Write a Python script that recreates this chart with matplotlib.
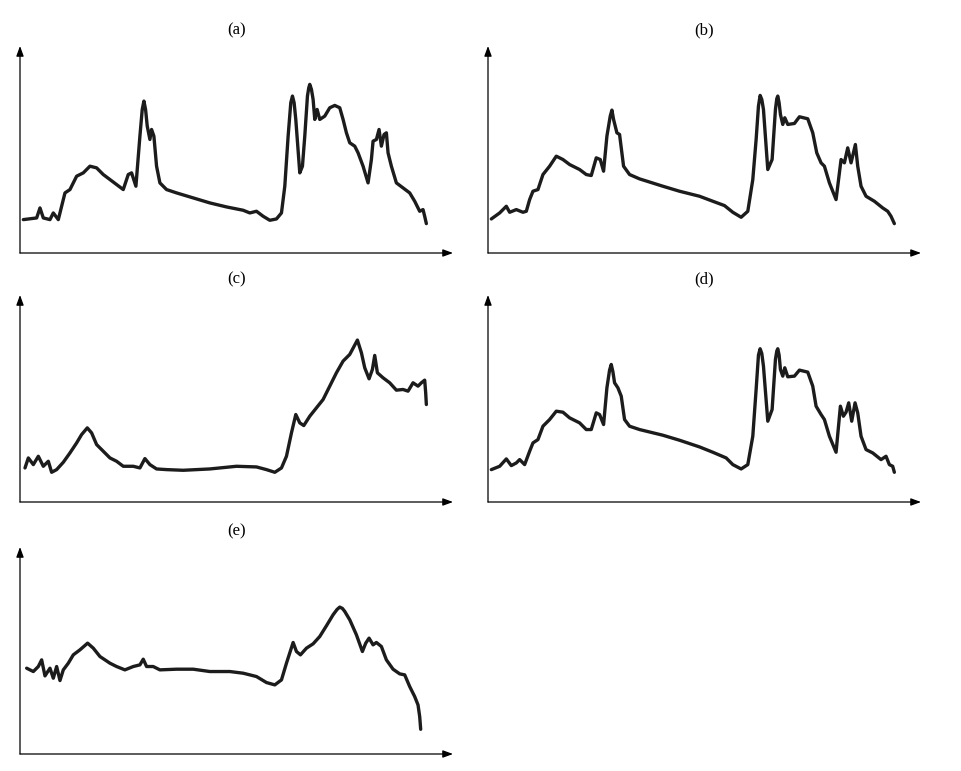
import numpy as np
import matplotlib
matplotlib.use("Agg")
import matplotlib.pyplot as plt

# Spectra, arbitrary units (no tick labels in the original)
panel_labels = ['(a)', '(b)', '(c)', '(d)', '(e)']

x_a = [10, 50, 60, 70, 90, 100, 115, 120, 135, 150, 170, 190, 210, 230, 250, 270, 290, 310, 325, 335,
       348, 360, 367, 372, 377, 382, 390, 395, 402, 410, 420, 440, 470, 520, 570, 620, 670, 690, 710, 730,
       750, 770, 785, 795, 805, 813, 818, 823, 828, 840, 848, 855, 863, 867, 870, 875, 880, 885, 892, 900,
       915, 930, 945, 960, 970, 980, 990, 1005, 1015, 1030, 1045, 1055, 1060, 1070, 1078, 1085, 1093, 1100,
       1105, 1115, 1130, 1150, 1170, 1185, 1200, 1210, 1215, 1220]
y_a = [100, 105, 135, 105, 100, 120, 100, 120, 180, 190, 230, 240, 260, 255, 235, 220, 205, 190, 235, 240,
       200, 350, 430, 455, 430, 380, 340, 370, 350, 260, 210, 190, 180, 165, 150, 138, 128, 120, 125, 110,
       98, 102, 120, 200, 350, 450, 470, 450, 400, 240, 260, 350, 470, 495, 505, 490, 460, 400, 430, 400,
       410, 435, 442, 435, 400, 360, 330, 320, 300, 260, 210, 280, 335, 340, 370, 320, 355, 360,
       300, 260, 210, 195, 180, 155, 125, 130, 110, 88]

x_b = [10, 35, 55, 65, 85, 105, 115, 125, 135, 150, 165, 185, 205, 225, 245, 275, 295, 310, 325, 337,
       347, 357, 367, 372, 377, 387, 395, 407, 425, 455, 525, 575, 635, 675, 710, 735, 760, 780, 795, 805,
       812, 817, 822, 827, 840, 853, 863, 867, 870, 874, 878, 885, 891, 900, 920, 935, 960, 975, 987, 1000,
       1010, 1025, 1045, 1060, 1070, 1080, 1090, 1103, 1110, 1120, 1135, 1160, 1185, 1200, 1210, 1220]
y_b = [102, 120, 140, 122, 130, 122, 125, 160, 185, 190, 235, 260, 290, 280, 265, 250, 235, 232, 285, 280,
       245, 350, 410, 428, 400, 360, 355, 260, 235, 222, 200, 185, 170, 155, 142, 122, 107, 125, 220, 340,
       440, 472, 460, 430, 250, 280, 430, 462, 470, 450, 415, 385, 405, 385, 388, 408, 402, 360, 300, 270,
       260, 210, 160, 280, 270, 315, 270, 325, 260, 200, 170, 155, 135, 125, 110, 88]

x_c = [15, 25, 40, 55, 70, 85, 95, 110, 130, 150, 170, 185, 202, 215, 230, 250, 270, 290, 310, 340,
       360, 375, 390, 410, 440, 490, 570, 650, 710, 740, 765, 785, 800, 815, 828, 840, 852, 870, 890, 910,
       930, 950, 970, 990, 1013, 1025, 1035, 1048, 1058, 1065, 1073, 1090, 1110, 1130, 1150, 1165, 1180,
       1195, 1205, 1215, 1218, 1220]
y_c = [102, 132, 112, 137, 107, 122, 89, 97, 119, 147, 177, 202, 222, 207, 172, 152, 132, 122, 107, 107,
       102, 130, 112, 99, 97, 95, 99, 107, 105, 97, 89, 102, 137, 207, 262, 237, 229, 257, 282, 307,
       347, 387, 422, 442, 485, 447, 402, 369, 397, 439, 387, 372, 357, 335, 337, 332, 357,
       347, 357, 365, 327, 292]

x_d = [10, 35, 55, 70, 85, 95, 110, 125, 135, 150, 165, 185, 205, 225, 245, 275, 295, 310, 325, 335,
       347, 357, 365, 370, 375, 380, 390, 400, 410, 425, 455, 525, 575, 635, 675, 715, 735, 760, 780, 795,
       805, 812, 817, 822, 827, 840, 853, 863, 867, 870, 874, 878, 885, 891, 900, 920, 935, 960, 975, 985,
       1000, 1010, 1025, 1045, 1058, 1067, 1075, 1083, 1092, 1102, 1110, 1120, 1135, 1155, 1180, 1195, 1205,
       1215, 1220]
y_d = [97, 107, 129, 109, 117, 127, 112, 152, 177, 187, 227, 247, 272, 269, 252, 237, 217, 217, 267, 262,
       232, 342, 395, 412, 390, 357, 342, 317, 247, 227, 217, 200, 185, 165, 149, 132, 112, 99, 112, 197,
       337, 440, 459, 445, 407, 242, 277, 427, 452, 459, 440, 397, 377, 402, 375, 377, 395, 389, 347, 287,
       262, 247, 197, 149, 287, 257, 269, 297, 242, 297, 267, 197, 157, 147, 127, 137, 112,
       107, 89]

x_e = [20, 40, 55, 65, 75, 90, 100, 110, 120, 130, 145, 160, 180, 203, 220, 240, 270, 290, 315, 340,
       360, 370, 380, 400, 420, 470, 520, 570, 630, 670, 710, 740, 765, 785, 800, 820, 830, 842, 860, 880,
       900, 920, 940, 952, 960, 968, 975, 990, 1010, 1028, 1038, 1048, 1060, 1070, 1085, 1100, 1120, 1140,
       1155, 1170, 1185, 1195, 1200, 1203]
y_e = [257, 247, 262, 282, 234, 257, 227, 262, 220, 252, 272, 297, 312, 332, 317, 292, 272, 262, 252, 262,
       267, 284, 262, 262, 252, 254, 254, 247, 247, 242, 232, 214, 207, 222, 272, 334, 307, 297, 317, 330,
       352, 384, 417, 433, 440, 436, 427, 402, 357, 307, 332, 347, 327, 334, 322, 282, 254, 240,
       237, 202, 172, 147, 112, 74]

# pixel geometry of the original page
FIG_W, FIG_H = 962, 771
AX_W, AX_H = 433, 207
origins = [(20, 253), (488, 253), (20, 502), (488, 502), (20, 754)]


def draw_panel(fig, origin, label, x, y):
    ox, oy = origin
    ax = fig.add_axes([ox / FIG_W, (FIG_H - oy) / FIG_H, AX_W / FIG_W, AX_H / FIG_H])
    ax.plot(x, y, color='#1c1c1c', lw=2.4, solid_joinstyle='round', solid_capstyle='round')
    ax.set_xlim(0, 1300)
    ax.set_ylim(0, 620)
    for s in ax.spines.values():
        s.set_visible(False)
    ax.set_xticks([])
    ax.set_yticks([])
    ax.patch.set_alpha(0)
    arrow = dict(arrowstyle='-|>,head_length=0.6,head_width=0.22', color='black', lw=0.9,
                 shrinkA=0, shrinkB=0)
    ax.annotate('', xy=(1, 0), xytext=(0, 0), xycoords='axes fraction', arrowprops=arrow)
    ax.annotate('', xy=(0, 1), xytext=(0, 0), xycoords='axes fraction', arrowprops=arrow)
    ax.text(0.5, 1.075, label, transform=ax.transAxes, ha='center', va='center',
            fontsize=12, family='Liberation Serif')
    return ax


def main():
    fig = plt.figure(figsize=(FIG_W / 100, FIG_H / 100), dpi=100)
    series = [(x_a, y_a), (x_b, y_b), (x_c, y_c), (x_d, y_d), (x_e, y_e)]
    for origin, label, (x, y) in zip(origins, panel_labels, series):
        draw_panel(fig, origin, label, x, y)
    fig.savefig('out.png', dpi=100, facecolor='white')


if __name__ == "__main__":
    main()
